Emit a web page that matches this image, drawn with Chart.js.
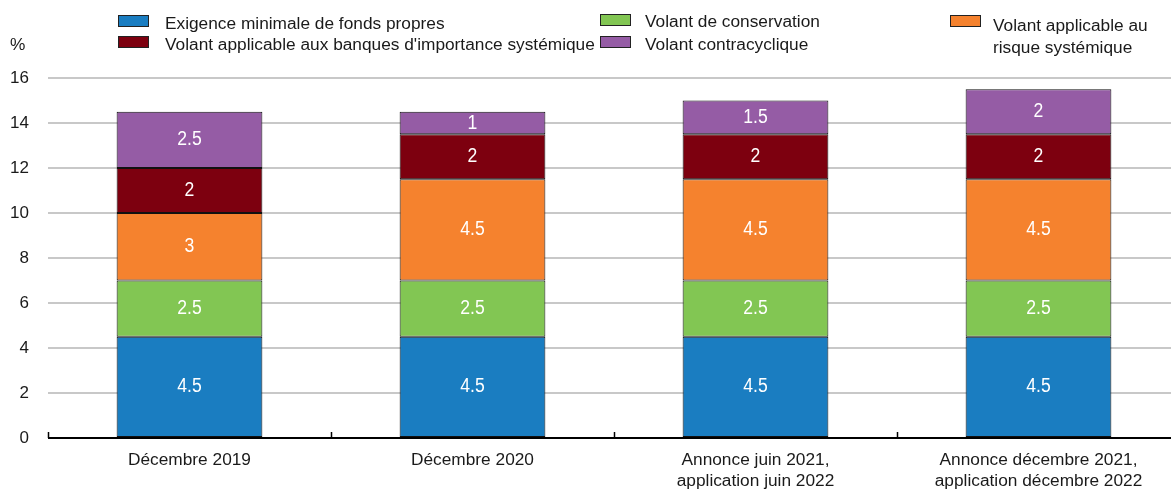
<!DOCTYPE html>
<html><head><meta charset="utf-8">
<script src="https://cdn.jsdelivr.net/npm/chart.js@4/dist/chart.umd.min.js"></script>
<style>
html,body{margin:0;padding:0;background:#fff;overflow:hidden;width:1171px;height:490px;}
#wrap{position:relative;width:1180px;height:490px;}
canvas{position:absolute;left:0;top:0;}
.lg{position:absolute;font-family:"Liberation Sans",Arial,sans-serif;font-size:17.3px;color:#1a1a1a;line-height:20px;white-space:nowrap;}
.bx{position:absolute;width:29px;height:10px;border:1px solid #222;}
</style></head>
<body>
<div id="wrap">
<canvas id="c" width="1180" height="490"></canvas>
<div class="lg" style="left:10px;top:34px;">%</div>
<div class="bx" style="left:118px;top:15px;background:#1a7dc1"></div>
<div class="lg" style="left:165px;top:13px;">Exigence minimale de fonds propres</div>
<div class="bx" style="left:118px;top:36px;background:#7d000f"></div>
<div class="lg" style="left:165px;top:34px;">Volant applicable aux banques d'importance systémique</div>
<div class="bx" style="left:600px;top:14px;background:#82c653"></div>
<div class="lg" style="left:645px;top:11px;">Volant de conservation</div>
<div class="bx" style="left:600px;top:36px;background:#955ca5"></div>
<div class="lg" style="left:645px;top:34px;">Volant contracyclique</div>
<div class="bx" style="left:950px;top:15px;background:#f5822e"></div>
<div class="lg" style="left:993px;top:14px;line-height:22px;">Volant applicable au<br>risque systémique</div>
</div>
<script>
const categories = [["Décembre 2019"],["Décembre 2020"],["Annonce juin 2021,","application juin 2022"],["Annonce décembre 2021,","application décembre 2022"]];
const seriesNames = ["Exigence minimale de fonds propres","Volant de conservation","Volant applicable au risque systémique","Volant applicable aux banques d'importance systémique","Volant contracyclique"];
const minimum = [4.5,4.5,4.5,4.5];
const conservation = [2.5,2.5,2.5,2.5];
const systemicRisk = [3,4.5,4.5,4.5];
const systemicBanks = [2,2,2,2];
const countercyclical = [2.5,1,1.5,2];
const yTicks = [0,2,4,6,8,10,12,14,16];
const colors = ["#1a7dc1","#82c653","#f5822e","#7d000f","#955ca5"];
const FONT = '"Liberation Sans",Arial,sans-serif';

const values = [minimum,conservation,systemicRisk,systemicBanks,countercyclical];
const datasets = values.map((v,i)=>({label:seriesNames[i],data:v,backgroundColor:colors[i],borderColor:"#111",borderWidth:1,borderSkipped:false,barPercentage:0.515,categoryPercentage:1}));

const labelsPlugin = {
  id:'segLabels',
  afterDatasetsDraw(chart){
    const ctx=chart.ctx;
    chart.data.datasets.forEach((ds,di)=>{
      chart.getDatasetMeta(di).data.forEach((el,i)=>{
        const y=(el.y+el.base)/2;
        ctx.save();
        ctx.fillStyle="#fff";
        ctx.font="20px "+FONT;
        ctx.textAlign="center";ctx.textBaseline="middle";
        ctx.translate(el.x,y);ctx.scale(0.88,1);
        ctx.fillText(String(ds.data[i]),0,0);
        ctx.restore();
      });
    });
  }
};
const axisPlugin = {
  id:'axisLine',
  afterDraw(chart){
    const ctx=chart.ctx, a=chart.chartArea, xs=chart.scales.x;
    const y=chart.scales.y.getPixelForValue(0);
    ctx.save();
    ctx.strokeStyle="#000";ctx.lineWidth=2;
    ctx.beginPath();ctx.moveTo(a.left,y);ctx.lineTo(a.right,y);ctx.stroke();
    ctx.lineWidth=1.5;
    for(let i=0;i<categories.length;i++){
      const x=Math.round(xs.getPixelForValue(i-0.5))+0.5;
      ctx.beginPath();ctx.moveTo(x,y);ctx.lineTo(x,y-6);ctx.stroke();
    }
    ctx.restore();
  }
};

new Chart(document.getElementById('c'),{
  type:'bar',
  data:{labels:categories,datasets},
  options:{
    responsive:false,animation:false,
    layout:{padding:{top:78,left:0,right:0,bottom:0}},
    plugins:{legend:{display:false},tooltip:{enabled:false}},
    scales:{
      x:{stacked:true,grid:{display:false},border:{display:false},
         afterFit(s){s.height=52;},
         ticks:{color:"#1a1a1a",font:{family:FONT,size:17.3,lineHeight:1.25},padding:3,maxRotation:0,autoSkip:false}},
      y:{stacked:true,min:0,max:16,afterBuildTicks(s){s.ticks=yTicks.map(v=>({value:v}));},
         afterFit(s){s.width=48;},
         grid:{color:"#c8c8c8",lineWidth:2,drawTicks:false},border:{display:false},
         ticks:{color:"#1a1a1a",font:{family:FONT,size:17},padding:19}}
    }
  },
  plugins:[labelsPlugin,axisPlugin]
});
</script>
</body></html>
